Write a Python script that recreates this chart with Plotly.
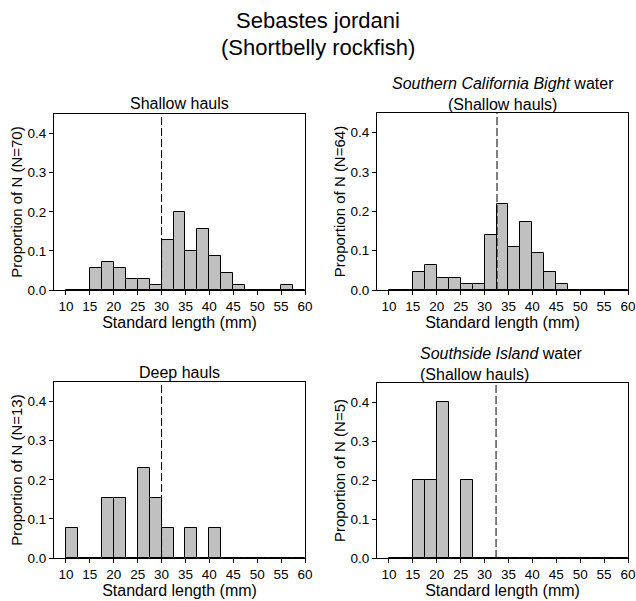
import plotly.graph_objects as go

# Bin left edges (mm), bin width 2.5 mm
bin_edges = [10, 12.5, 15, 17.5, 20, 22.5, 25, 27.5, 30, 32.5, 35, 37.5, 40, 42.5, 45, 47.5, 50, 52.5, 55, 57.5]
bin_width = 2.5

shallow = [0, 0, 0.057, 0.071, 0.057, 0.029, 0.029, 0.014, 0.129, 0.200, 0.100, 0.157, 0.086, 0.043, 0.014, 0, 0, 0, 0.014, 0]
scb = [0, 0, 0.047, 0.0625, 0.031, 0.031, 0.016, 0.016, 0.141, 0.219, 0.109, 0.172, 0.094, 0.047, 0.016, 0, 0, 0, 0, 0]
deep = [0.077, 0, 0, 0.154, 0.154, 0, 0.231, 0.154, 0.077, 0, 0.077, 0, 0.077, 0, 0, 0, 0, 0, 0, 0]
southside = [0, 0, 0.2, 0.2, 0.4, 0, 0.2, 0, 0, 0, 0, 0, 0, 0, 0, 0, 0, 0, 0, 0]

median_lines = [30, 32.6, 30, 32.4]
y_titles = ["Proportion of N (N=70)", "Proportion of N (N=64)", "Proportion of N (N=13)", "Proportion of N (N=5)"]
x_ticks = [10, 15, 20, 25, 30, 35, 40, 45, 50, 55, 60]
y_ticks = [0.0, 0.1, 0.2, 0.3, 0.4]

W, H = 636, 601


def px_x(p):
    return p / W


def px_y(p):
    return 1 - p / H


panels = [
    (shallow, (54, 305), (114, 290)),
    (scb, (377, 628), (113, 290)),
    (deep, (54, 305), (382, 558)),
    (southside, (377, 628), (383, 558)),
]

FONT = "Liberation Sans, Arial, sans-serif"
fig = go.Figure()
layout = dict(
    template="none",
    width=W, height=H,
    margin=dict(l=0, r=0, t=0, b=0, pad=0),
    paper_bgcolor="white", plot_bgcolor="white",
    showlegend=False,
    font=dict(family=FONT, size=13.5, color="black"),
    bargap=0,
)
shapes = []
centers = [e + bin_width / 2 for e in bin_edges]
for i, (vals, (x0, x1), (y0, y1)) in enumerate(panels):
    n = i + 1
    xa = "x" if n == 1 else f"x{n}"
    ya = "y" if n == 1 else f"y{n}"
    fig.add_trace(go.Bar(
        x=centers, y=vals, width=bin_width,
        marker=dict(color="#c0c0c0", line=dict(color="black", width=1)),
        xaxis=xa, yaxis=ya, hoverinfo="x+y",
    ))
    xkey = "xaxis" if n == 1 else f"xaxis{n}"
    ykey = "yaxis" if n == 1 else f"yaxis{n}"
    layout[xkey] = dict(
        domain=[px_x(x0), px_x(x1)], anchor=ya, range=[7.5, 60],
        automargin=False,
        tickmode="array", tickvals=x_ticks, ticks="outside", ticklen=4,
        tickcolor="black", showline=True, linecolor="black", linewidth=1,
        mirror=True, showgrid=False, zeroline=False,
        tickfont=dict(size=13.5),
        title=dict(text="Standard length (mm)", font=dict(size=16), standoff=3),
    )
    layout[ykey] = dict(
        domain=[px_y(y1), px_y(y0)], anchor=xa, range=[0, 0.45],
        automargin=False,
        tickmode="array", tickvals=y_ticks, tickformat=".1f", ticks="outside",
        ticklen=4, tickcolor="black", showline=True, linecolor="black",
        linewidth=1, mirror=True, showgrid=False, zeroline=False,
        tickfont=dict(size=13.5),
        title=dict(text=y_titles[i], font=dict(size=15), standoff=1),
    )
    shapes.append(dict(
        type="line", xref=xa, yref=f"{ya} domain",
        x0=median_lines[i], x1=median_lines[i], y0=0, y1=1,
        line=dict(color="black", width=1, dash="8px,3px"),
    ))

layout["shapes"] = shapes


def ann(text, x, y, xanchor="center", yanchor="middle", size=16, align="center"):
    return dict(text=text, x=px_x(x), y=px_y(y), xref="paper", yref="paper",
                xanchor=xanchor, yanchor=yanchor, align=align,
                showarrow=False, font=dict(size=size))


annotations = [
    ann("Sebastes jordani", 318, 21, size=22),
    ann("(Shortbelly rockfish)", 318, 47, size=22),
    ann("Shallow hauls", (54 + 305) / 2, 113.5, yanchor="bottom"),
    ann("<i>Southern California Bight</i> water<br>(Shallow hauls)",
        (377 + 628) / 2, 115, yanchor="bottom"),
    ann("Deep hauls", (54 + 305) / 2, 382.5, yanchor="bottom"),
    ann("<i>Southside Island</i> water<br>(Shallow hauls)",
        418, 385, xanchor="left", yanchor="bottom", align="left"),
]
layout["annotations"] = annotations
fig.update_layout(**layout)
# remove the browser's default page margin so the figure fills the window
fig.write_html(
    "out.html",
    config={"displayModeBar": False},
    post_script="document.body.style.margin='0';document.body.style.overflow='hidden';",
)
